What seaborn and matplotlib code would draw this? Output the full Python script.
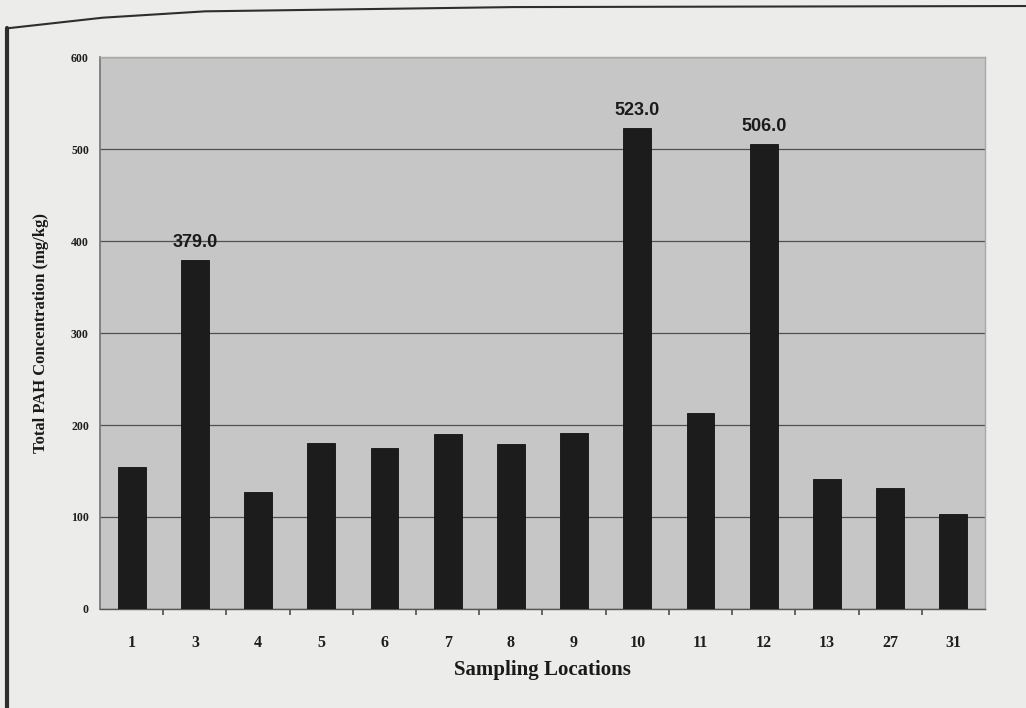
import matplotlib
matplotlib.use("Agg")
import matplotlib.pyplot as plt
import seaborn as sns
import pandas as pd
from matplotlib.lines import Line2D

# Total PAH concentration per sampling location
locations = ["1", "3", "4", "5", "6", "7", "8", "9", "10", "11", "12", "13", "27", "31"]
pah_total = [154, 379, 127, 181, 175, 190, 179, 191, 523, 213, 506, 141, 131, 103]
labelled = ["3", "10", "12"]
y_ticks = [0, 100, 200, 300, 400, 500, 600]

df = pd.DataFrame({"location": locations, "pah": pah_total})

sns.set_theme(style="white")
plt.rcParams["font.family"] = ["Liberation Serif", "DejaVu Serif"]

fig = plt.figure(figsize=(10.26, 7.08), dpi=100, facecolor="#ececea")
ax = fig.add_axes([0.0975, 0.140, 0.8625, 0.779])
ax.set_facecolor("#c6c6c6")

sns.barplot(data=df, x="location", y="pah", order=locations, color="#1c1c1c",
            width=0.44, saturation=1, ax=ax, zorder=3)
for p in ax.patches:
    p.set_edgecolor("#111111")
    p.set_linewidth(0.6)

ax.set_ylim(0, 600)
ax.set_xlim(-0.5, len(locations) - 0.5)
ax.set_yticks(y_ticks)
ax.set_yticklabels([str(v) for v in y_ticks], fontsize=8.5, fontweight="bold", color="#1e1e1e")
ax.yaxis.grid(True, color="#505050", linewidth=0.9, zorder=1)
ax.set_axisbelow(True)

# category labels on minor ticks, tick marks between categories
ax.set_xticks([i + 0.5 for i in range(len(locations) - 1)])
ax.set_xticklabels([])
ax.set_xticks(range(len(locations)), minor=True)
ax.set_xticklabels(locations, minor=True, fontsize=11.5, fontweight="bold", color="#1e1e1e")
ax.tick_params(axis="x", which="major", direction="out", length=4, color="#555555", bottom=True)
ax.tick_params(axis="x", which="minor", length=0, pad=19)
ax.tick_params(axis="y", length=0, pad=8)

for s in ["top", "right"]:
    ax.spines[s].set_color("#a8a8a8")
    ax.spines[s].set_linewidth(1.0)
ax.spines["left"].set_color("#777777")
ax.spines["bottom"].set_color("#555555")
ax.spines["bottom"].set_linewidth(1.0)

ax.set_xlabel("Sampling Locations", fontsize=15, fontweight="bold", color="#1a1a1a", labelpad=6)
ax.set_ylabel("Total PAH Concentration (mg/kg)", fontsize=12, fontweight="bold", color="#1a1a1a", labelpad=16)

# value labels above the highlighted bars
for loc, val in zip(locations, pah_total):
    if loc in labelled:
        ax.text(locations.index(loc), val + 10, f"{val:.1f}", ha="center", va="bottom",
                fontsize=13, fontweight="bold", family="Liberation Sans", color="#1a1a1a", zorder=4)

# page edges
fig.add_artist(Line2D([0.007, 0.007], [0.0, 0.960], color="#2e2e2e", linewidth=3))
fig.add_artist(Line2D([0.007, 0.1, 0.2, 0.5, 1.0], [0.960, 0.975, 0.984, 0.990, 0.9915],
                      color="#2e2e2e", linewidth=1.5))

fig.savefig("out.png", dpi=100, facecolor=fig.get_facecolor())
